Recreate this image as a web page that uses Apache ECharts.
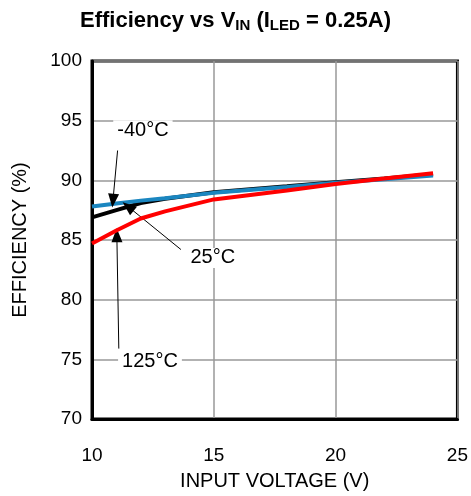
<!DOCTYPE html>
<html>
<head>
<meta charset="utf-8">
<script src="https://cdn.jsdelivr.net/npm/echarts@6/dist/echarts.min.js"></script>
<style>
  html, body { margin: 0; padding: 0; background: #fff; }
  #chart { width: 471px; height: 496px; }
</style>
</head>
<body>
<div id="chart"></div>
<script>
// input voltage (V)
const vin = [10, 11, 12, 13, 15, 18, 20, 22, 24];
// efficiency (%) per temperature
const effM40 = [87.8, 88.05, 88.3, 88.5, 88.95, 89.45, 89.8, 90.1, 90.4];
const eff25 = [86.9, 87.5, 88.1, 88.45, 89.0, 89.5, 89.85, 90.15, 90.5];
const eff125 = [84.7, 85.8, 86.8, 87.4, 88.4, 89.15, 89.7, 90.15, 90.6];

const font = 'Liberation Sans, Arial, sans-serif';

const chart = echarts.init(document.getElementById('chart'));

function pairs(ys) {
  return vin.map((x, i) => [x, ys[i]]);
}

// arrow annotations: [from, to] in data units
const arrows = [
  [[11.05, 92.5], [10.86, 88.3]],
  [[13.65, 84.2], [11.48, 87.8]],
  [[11.1, 75.9], [11.02, 85.4]]
];
const notes = [
  { name: '-40°C', coord: [12.09, 94.2] },
  { name: '25°C', coord: [14.96, 83.5] },
  { name: '125°C', coord: [12.38, 74.8] }
];

const option = {
  animation: false,
  title: {
    text: 'Efficiency vs V{sub|IN} (I{sub|LED} = 0.25A)',
    left: 'center',
    top: 4,
    textStyle: {
      fontFamily: font,
      fontSize: 22,
      fontWeight: 'bold',
      color: '#000',
      rich: {
        sub: { fontFamily: font, fontSize: 15, fontWeight: 'bold', color: '#000', padding: [9, 0, 0, 0] }
      }
    }
  },
  grid: {
    left: 92, right: 13, top: 61, bottom: 76,
    show: true, borderColor: '#000', borderWidth: 3
  },
  xAxis: {
    type: 'value',
    min: 10, max: 25, interval: 5,
    name: 'INPUT VOLTAGE (V)',
    nameLocation: 'middle',
    nameGap: 52,
    nameTextStyle: { fontFamily: font, fontSize: 20, color: '#000' },
    axisLine: { lineStyle: { color: '#000', width: 3 } },
    axisTick: { show: false },
    axisLabel: { fontFamily: font, fontSize: 19, color: '#000', margin: 27 },
    splitLine: { lineStyle: { color: '#999', width: 1.5 } }
  },
  yAxis: {
    type: 'value',
    min: 70, max: 100, interval: 5,
    name: 'EFFICIENCY (%)',
    nameLocation: 'middle',
    nameGap: 62,
    nameTextStyle: { fontFamily: font, fontSize: 20, color: '#000' },
    axisLine: { show: true, lineStyle: { color: '#000', width: 3 } },
    axisTick: { show: false },
    axisLabel: { fontFamily: font, fontSize: 19, color: '#000', margin: 10 },
    splitLine: { lineStyle: { color: '#999', width: 1.5 } }
  },
  series: [
    {
      name: '25°C', type: 'line', data: pairs(eff25), showSymbol: false,
      lineStyle: { color: '#000', width: 4 }, z: 3
    },
    {
      name: '-40°C', type: 'line', data: pairs(effM40), showSymbol: false,
      lineStyle: { color: '#1a86c0', width: 4 }, z: 4
    },
    {
      name: '125°C', type: 'line', data: pairs(eff125), showSymbol: false,
      lineStyle: { color: '#ff0000', width: 4 }, z: 5
    },
    {
      name: 'notes', type: 'line', data: [], z: 6,
      markLine: {
        silent: true,
        symbol: ['none', 'triangle'],
        symbolSize: [11, 14],
        label: { show: false },
        lineStyle: { color: '#000', width: 1, type: 'solid' },
        data: arrows.map(a => [{ coord: a[0] }, { coord: a[1] }])
      },
      markPoint: {
        silent: true,
        symbol: 'rect',
        symbolSize: 0,
        data: notes.map(n => ({
          name: n.name,
          coord: n.coord,
          label: {
            show: true,
            position: 'inside',
            formatter: n.name,
            fontFamily: font,
            fontSize: 20,
            color: '#000',
            backgroundColor: '#fff',
            padding: [0, 4]
          }
        }))
      }
    }
  ]
};

chart.setOption(option);
</script>
</body>
</html>
